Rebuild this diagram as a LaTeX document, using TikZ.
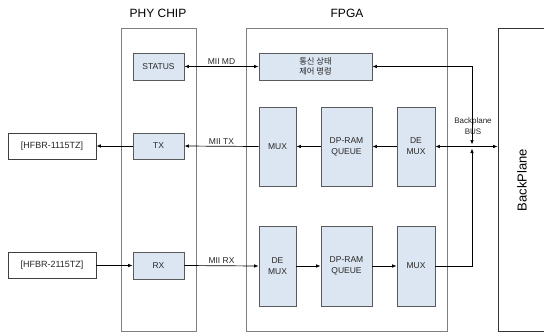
\documentclass[tikz,border=0pt]{standalone}
\usepackage{fontspec}
\setmainfont{Liberation Sans}
\newfontfamily\kr{Noto Sans CJK KR}
\usetikzlibrary{arrows.meta}
\definecolor{boxfill}{HTML}{DCE6F2}
\definecolor{boxline}{HTML}{5A5A5A}
\definecolor{frameline}{HTML}{7F7F7F}
\begin{document}
\begin{tikzpicture}[x=1pt,y=-1pt,
  blk/.style={draw=boxline, fill=boxfill, line width=0.9pt, inner sep=0pt, align=center, text=black!85, font=\fontsize{8.5}{11}\selectfont},
  ext/.style={draw=black!75, fill=white, line width=0.8pt, inner sep=0pt, minimum width=88pt, minimum height=26pt, text=black!85, font=\fontsize{9}{10}\selectfont},
  frame/.style={draw=frameline, line width=1pt, inner sep=0pt},
  title/.style={font=\fontsize{12}{14}\selectfont, inner sep=0pt},
  lbl/.style={font=\fontsize{8.5}{10}\selectfont, inner sep=1.5pt, text=black!85},
  tip/.tip={Latex[length=4.5pt,width=3.6pt]},
  arr/.style={-tip, line width=0.7pt},
  darr/.style={tip-tip, line width=0.7pt}]
\useasboundingbox (0,0) rectangle (544,333);
% frames
\node[frame, minimum width=75pt, minimum height=303pt] (phy) at (158.5,179.5) {};
\node[frame, minimum width=201pt, minimum height=303pt] (fpga) at (346.5,179.5) {};
\node[draw=black!80, line width=0.8pt, inner sep=0pt, minimum width=70pt, minimum height=303pt] (bp) at (533,179.5) {};
\node[title] (phyt) at (158,13) {PHY CHIP};
\node[title] (fpgat) at (347,13) {FPGA};
\node[font=\fontsize{13}{15}\selectfont, rotate=90, inner sep=0pt] (bpt) at (522,180) {BackPlane};
% PHY blocks
\node[blk, minimum width=51pt, minimum height=27pt] (status) at (158.5,66.5) {STATUS};
\node[blk, minimum width=51pt, minimum height=26pt] (tx) at (158.5,146) {TX};
\node[blk, minimum width=51pt, minimum height=27pt] (rx) at (158.5,265.5) {RX};
% external
\node[ext] (h1) at (52,146) {[HFBR-1115TZ]};
\node[ext] (h2) at (52,265.5) {[HFBR-2115TZ]};
% FPGA blocks
\node[blk, minimum width=113pt, minimum height=27pt, font=\kr\fontsize{8.3}{10.5}\selectfont] (cmd) at (315.5,66.5) {통신 상태\\제어 명령};
\node[blk, minimum width=37pt, minimum height=79pt] (mux1) at (277.5,146.5) {MUX};
\node[blk, minimum width=51pt, minimum height=79pt] (dpr1) at (346.5,146.5) {DP-RAM\\QUEUE};
\node[blk, minimum width=38pt, minimum height=79pt] (demux1) at (416,146.5) {DE\\MUX};
\node[blk, minimum width=37pt, minimum height=80pt] (demux2) at (277.5,266) {DE\\MUX};
\node[blk, minimum width=51pt, minimum height=80pt] (dpr2) at (346.5,266) {DP-RAM\\QUEUE};
\node[blk, minimum width=38pt, minimum height=80pt] (mux2) at (416,266) {MUX};
% bus coordinates
\coordinate (bt) at (472,66.5);
\coordinate (jn) at (472,146.5);
\coordinate (bb) at (472,266);
\node[lbl, align=center, font=\fontsize{8}{11}\selectfont] (busl) at (473,126.5) {Backplane\\BUS};
% connectors
\draw[darr] (status.east) -- node[lbl, above] {MII MD} (cmd.west);
\draw[arr] (mux1.west) -- node[lbl, above] {MII TX} (tx.east);
\draw[arr] (tx.west) -- (h1.east);
\draw[arr] (h2.east) -- (rx.west);
\draw[arr] (rx.east) -- node[lbl, above] {MII RX} (demux2.west);
\draw[arr] (demux1.west) -- (demux1.west -| dpr1.east);
\draw[arr] (dpr1.west) -- (dpr1.west -| mux1.east);
\draw[arr] (demux2.east) -- (demux2.east -| dpr2.west);
\draw[arr] (dpr2.east) -- (dpr2.east -| mux2.west);
\draw[darr] (demux1.east) -- (demux1.east -| bp.west);
\draw[darr] (cmd.east) -- (bt) -- ([yshift=2pt]jn);
\draw[arr] (mux2.east) -- (bb) -- ([yshift=-2pt]jn);
\end{tikzpicture}
\end{document}
